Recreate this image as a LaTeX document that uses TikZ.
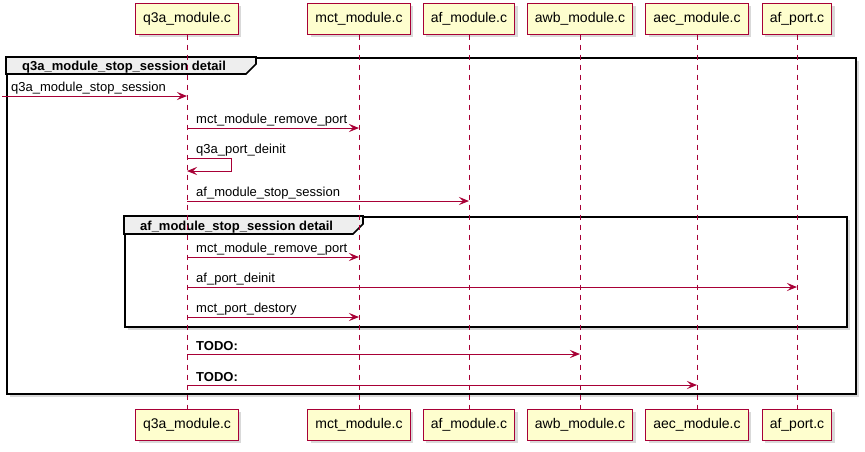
\documentclass[tikz,border=0pt]{standalone}
\usepackage{fontspec}
\setmainfont{Liberation Sans}
\usetikzlibrary{shadows,arrows.meta}
\definecolor{crim}{HTML}{A80036}
\definecolor{pfill}{HTML}{FEFECE}
\definecolor{tabfill}{HTML}{EEEEEE}
\tikzset{
  part/.style={draw=crim, fill=pfill, line width=1pt, font=\fontsize{14}{16}\selectfont,
    minimum height=31pt, inner xsep=7.5pt, inner ysep=0pt,
    drop shadow={shadow xshift=3pt,shadow yshift=-3pt,opacity=0.3}},
  life/.style={draw=crim, line width=0.8pt, dash pattern=on 5pt off 5pt},
  msg/.style={draw=crim, line width=1pt, -{Stealth[length=10pt,width=8pt,inset=4pt]}},
  lbl/.style={anchor=base west, inner sep=0pt, font=\fontsize{13}{15}\selectfont},
  blbl/.style={lbl, font=\fontsize{13}{15}\selectfont\bfseries},
  framebox/.style={draw=black, line width=1.6pt, fill=white, anchor=north west, inner sep=0pt,
    drop shadow={shadow xshift=3pt,shadow yshift=-3pt,opacity=0.3}},
  tabshape/.style={draw=black, line width=1.6pt, fill=tabfill, line join=miter},
}
\begin{document}
\begin{tikzpicture}[x=1pt,y=-1pt]
\useasboundingbox (0,0) rectangle (865,451);
% frames
\node[framebox, minimum width=849pt, minimum height=336pt] (f1) at (6,57) {};
\draw[tabshape] (f1.north west) -- (256,57) -- (256,64) -- (246,74) -- (6,74) -- cycle;
\node[blbl] (f1t) at (22,70) {q3a\_module\_stop\_session detail};
\node[framebox, minimum width=722pt, minimum height=110pt] (f2) at (124,216) {};
\draw[tabshape] (f2.north west) -- (363,216) -- (363,224) -- (353,234) -- (124,234) -- cycle;
\node[blbl] (f2t) at (140,230) {af\_module\_stop\_session detail};
% participants
\node[part] (p1t) at (187,18.5) {q3a\_module.c};
\node[part] (p2t) at (359,18.5) {mct\_module.c};
\node[part] (p3t) at (469,18.5) {af\_module.c};
\node[part] (p4t) at (580,18.5) {awb\_module.c};
\node[part] (p5t) at (697,18.5) {aec\_module.c};
\node[part] (p6t) at (797,18.5) {af\_port.c};
\node[part] (p1b) at (187,424.5) {q3a\_module.c};
\node[part] (p2b) at (359,424.5) {mct\_module.c};
\node[part] (p3b) at (469,424.5) {af\_module.c};
\node[part] (p4b) at (580,424.5) {awb\_module.c};
\node[part] (p5b) at (697,424.5) {aec\_module.c};
\node[part] (p6b) at (797,424.5) {af\_port.c};
\foreach \i in {1,...,6} { \draw[life] (p\i t) -- (p\i b); }
% message rows
\coordinate (m0) at (2,96);
\coordinate (m1) at (0,128);
\coordinate (s1a) at (0,158);
\coordinate (s1b) at (0,171);
\coordinate (m3) at (0,201);
\coordinate (m4) at (0,257);
\coordinate (m5) at (0,287);
\coordinate (m6) at (0,317);
\coordinate (m7) at (0,354);
\coordinate (m8) at (0,385);
% messages
\draw[msg] (m0) -- (p1t |- m0);
\node[lbl] (l0) at (11,91) {q3a\_module\_stop\_session};
\draw[msg] (p1t |- m1) -- (p2t |- m1);
\node[lbl] (l1) at (196,123) {mct\_module\_remove\_port};
\draw[msg] (p1t |- s1a) -- ++(44,0) -- ++(0,13) -- (p1t |- s1b);
\node[lbl] (l2) at (196,153) {q3a\_port\_deinit};
\draw[msg] (p1t |- m3) -- (p3t |- m3);
\node[lbl] (l3) at (196,196) {af\_module\_stop\_session};
\draw[msg] (p1t |- m4) -- (p2t |- m4);
\node[lbl] (l4) at (196,252) {mct\_module\_remove\_port};
\draw[msg] (p1t |- m5) -- (p6t |- m5);
\node[lbl] (l5) at (196,282) {af\_port\_deinit};
\draw[msg] (p1t |- m6) -- (p2t |- m6);
\node[lbl] (l6) at (196,312) {mct\_port\_destory};
\draw[msg] (p1t |- m7) -- (p4t |- m7);
\node[blbl] (l7) at (196,350) {TODO:};
\draw[msg] (p1t |- m8) -- (p5t |- m8);
\node[blbl] (l8) at (196,381) {TODO:};
\end{tikzpicture}
\end{document}
